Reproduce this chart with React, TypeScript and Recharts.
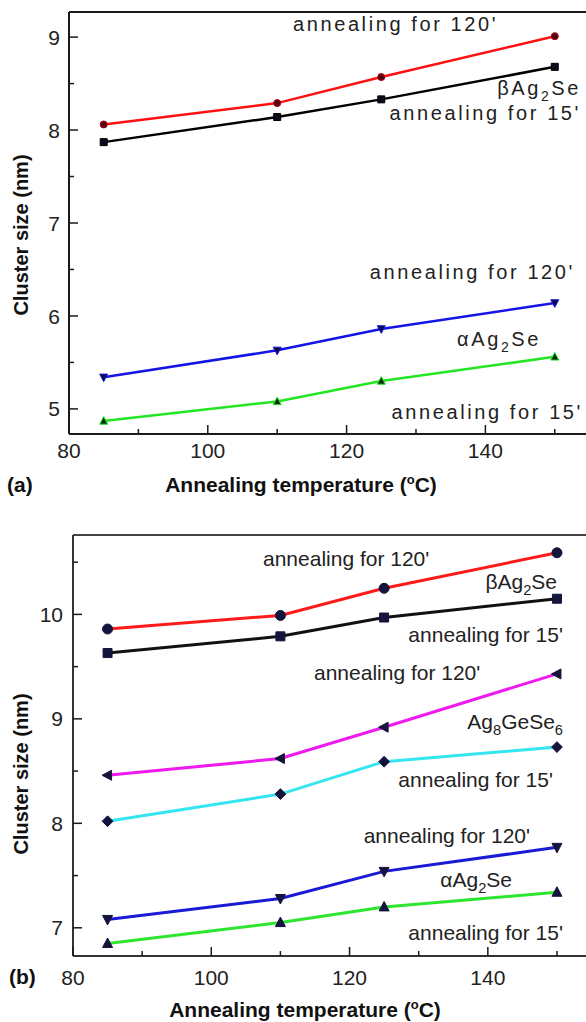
import { LineChart, Line, XAxis, YAxis } from 'recharts'

// ─── Data ─────────────────────────────────────────────────────────────────────

const temps = [85, 110, 125, 150]

// panel (a)
const aBeta120 = [8.06, 8.29, 8.57, 9.01]
const aBeta15 = [7.87, 8.14, 8.33, 8.68]
const aAlpha120 = [5.34, 5.63, 5.86, 6.14]
const aAlpha15 = [4.87, 5.08, 5.3, 5.56]

// panel (b)
const bBeta120 = [9.86, 9.99, 10.25, 10.59]
const bBeta15 = [9.63, 9.79, 9.97, 10.15]
const bGe120 = [8.46, 8.62, 8.92, 9.43]
const bGe15 = [8.02, 8.28, 8.59, 8.73]
const bAlpha120 = [7.08, 7.28, 7.54, 7.77]
const bAlpha15 = [6.85, 7.05, 7.2, 7.34]

const xTicks = [80, 90, 100, 110, 120, 130, 140, 150]
const xLabels = [80, 100, 120, 140]
const aYTicks = [5, 5.5, 6, 6.5, 7, 7.5, 8, 8.5, 9]
const bYTicks = [7, 7.5, 8, 8.5, 9, 9.5, 10, 10.5]

const rowsA = temps.map((t, i) => ({
  t, beta120: aBeta120[i], beta15: aBeta15[i], alpha120: aAlpha120[i], alpha15: aAlpha15[i],
}))
const rowsB = temps.map((t, i) => ({
  t, beta120: bBeta120[i], beta15: bBeta15[i], ge120: bGe120[i], ge15: bGe15[i],
  alpha120: bAlpha120[i], alpha15: bAlpha15[i],
}))

// ─── Styling ──────────────────────────────────────────────────────────────────

const SANS = "'Liberation Sans', Arial, Helvetica, sans-serif"
const AXIS = '#1a1a1a'

// ─── Markers ──────────────────────────────────────────────────────────────────

type Shape = 'circle' | 'square' | 'up' | 'down' | 'left' | 'diamond'

function markerPath(shape: Shape, cx: number, cy: number, r: number): string {
  switch (shape) {
    case 'square':
      return `M${cx - r},${cy - r}h${2 * r}v${2 * r}h${-2 * r}Z`
    case 'up':
      return `M${cx},${cy - r * 1.1}L${cx + r},${cy + r * 0.8}L${cx - r},${cy + r * 0.8}Z`
    case 'down':
      return `M${cx},${cy + r * 1.1}L${cx + r},${cy - r * 0.8}L${cx - r},${cy - r * 0.8}Z`
    case 'left':
      return `M${cx - r * 1.1},${cy}L${cx + r * 0.8},${cy - r}L${cx + r * 0.8},${cy + r}Z`
    case 'diamond':
      return `M${cx},${cy - r * 1.2}L${cx + r * 1.2},${cy}L${cx},${cy + r * 1.2}L${cx - r * 1.2},${cy}Z`
    default:
      return ''
  }
}

function dot(shape: Shape, r: number, fill: string, stroke: string) {
  return (p: any) => {
    if (p.cx == null || p.cy == null) return <g key={p.index} />
    if (shape === 'circle') {
      return <circle key={p.index} cx={p.cx} cy={p.cy} r={r} fill={fill} stroke={stroke} strokeWidth={1} />
    }
    return <path key={p.index} d={markerPath(shape, p.cx, p.cy, r)} fill={fill} stroke={stroke} strokeWidth={1} />
  }
}

// ─── Ticks (inward, with minor ticks) ─────────────────────────────────────────

function yTick(gap: number) {
  return (p: any) => {
    const v = p.payload.value
    const ax = p.x + gap
    const major = Number.isInteger(v)
    return (
      <g>
        <line x1={ax} x2={ax + (major ? 9 : 5)} y1={p.y} y2={p.y} stroke={AXIS} strokeWidth={1.5} />
        {major && (
          <text x={p.x} y={p.y} dy="0.36em" textAnchor="end" fontSize={21} fontFamily={SANS} fill="#222">
            {v}
          </text>
        )}
      </g>
    )
  }
}

function xTick(gap: number) {
  return (p: any) => {
    const v = p.payload.value
    const ay = p.y - gap
    const major = xLabels.includes(v)
    return (
      <g>
        <line x1={p.x} x2={p.x} y1={ay} y2={ay - (major ? 9 : 5)} stroke={AXIS} strokeWidth={1.5} />
        {major && (
          <text x={p.x} y={p.y} dy="0.71em" textAnchor="middle" fontSize={21} fontFamily={SANS} fill="#222">
            {v}
          </text>
        )}
      </g>
    )
  }
}

// ─── Labels ───────────────────────────────────────────────────────────────────

function Chem({ pre, sub, post }: { pre: string; sub: string; post: string }) {
  return (
    <>
      {pre}
      <tspan dy={6} fontSize="70%">{sub}</tspan>
      <tspan dy={-6}>{post}</tspan>
    </>
  )
}

function AxisTitle({ x, y }: { x: number; y: number }) {
  return (
    <text x={x} y={y} textAnchor="middle" fontSize={21} fontWeight="bold" fontFamily={SANS} fill="#111">
      Annealing temperature (<tspan dy={-8} fontSize={13}>o</tspan><tspan dy={8}>C)</tspan>
    </text>
  )
}

function YTitle({ cx, cy }: { cx: number; cy: number }) {
  return (
    <text
      x={0} y={0} transform={`translate(${cx},${cy}) rotate(-90)`}
      textAnchor="middle" fontSize={20} fontWeight="bold" fontFamily={SANS} fill="#111"
    >
      Cluster size (nm)
    </text>
  )
}

// ─── Component ────────────────────────────────────────────────────────────────

export default function App() {
  const aText = { fontSize: 20, fontFamily: SANS, letterSpacing: 2.6, fill: '#222' }
  const bText = { fontSize: 21, fontFamily: SANS, fill: '#222' }

  return (
    <div style={{ position: 'absolute', left: 0, top: 0, width: 586, height: 1022, background: '#fff' }}>
      {/* panel (a) */}
      <div style={{ position: 'absolute', left: 0, top: 0 }}>
        <LineChart width={586} height={500} data={rowsA} margin={{ top: 11, right: 0, left: 0, bottom: 0 }}>
          <XAxis
            dataKey="t" type="number" domain={[80, 154.5]} ticks={xTicks} interval={0}
            height={66} tickSize={0} tickMargin={9} tickLine={false}
            axisLine={{ stroke: AXIS, strokeWidth: 2 }} tick={xTick(9)}
          />
          <XAxis
            xAxisId="top" orientation="top" dataKey="t" type="number" domain={[80, 154.5]}
            height={1} tick={false} tickLine={false} axisLine={{ stroke: AXIS, strokeWidth: 2 }}
          />
          <YAxis
            type="number" domain={[4.73, 9.27]} ticks={aYTicks} interval={0}
            width={69} tickSize={0} tickMargin={9} tickLine={false}
            axisLine={{ stroke: AXIS, strokeWidth: 2 }} tick={yTick(9)}
          />
          <Line dataKey="beta120" stroke="#ff1010" strokeWidth={2.5} dot={dot('circle', 3.5, '#5a0012', '#a00010')} isAnimationActive={false} />
          <Line dataKey="beta15" stroke="#000" strokeWidth={2.5} dot={dot('square', 3.5, '#0a0a1e', '#000')} isAnimationActive={false} />
          <Line dataKey="alpha120" stroke="#1414e6" strokeWidth={2.5} dot={dot('down', 4, '#0c0c40', '#1414e6')} isAnimationActive={false} />
          <Line dataKey="alpha15" stroke="#22e622" strokeWidth={2.5} dot={dot('up', 4, '#0a2a0a', '#22e622')} isAnimationActive={false} />
        </LineChart>
      </div>

      {/* panel (b) */}
      <div style={{ position: 'absolute', left: 0, top: 500 }}>
        <LineChart width={586} height={522} data={rowsB} margin={{ top: 34, right: 0, left: 0, bottom: 0 }}>
          <XAxis
            dataKey="t" type="number" domain={[80, 154.2]} ticks={xTicks} interval={0}
            height={66} tickSize={0} tickMargin={14} tickLine={false}
            axisLine={{ stroke: '#333', strokeWidth: 2 }} tick={xTick(14)}
          />
          <XAxis
            xAxisId="top" orientation="top" dataKey="t" type="number" domain={[80, 154.2]}
            height={1} tick={false} tickLine={false} axisLine={{ stroke: '#444', strokeWidth: 2 }}
          />
          <YAxis
            type="number" domain={[6.73, 10.76]} ticks={bYTicks} interval={0}
            width={73} tickSize={0} tickMargin={10} tickLine={false}
            axisLine={{ stroke: '#333', strokeWidth: 2 }} tick={yTick(10)}
          />
          <Line dataKey="beta120" stroke="#ff1a1a" strokeWidth={3} dot={dot('circle', 5, '#14143c', '#14143c')} isAnimationActive={false} />
          <Line dataKey="beta15" stroke="#111" strokeWidth={3} dot={dot('square', 4.5, '#14143c', '#14143c')} isAnimationActive={false} />
          <Line dataKey="ge120" stroke="#ee1aee" strokeWidth={3} dot={dot('left', 5, '#14143c', '#14143c')} isAnimationActive={false} />
          <Line dataKey="ge15" stroke="#33e6f0" strokeWidth={3} dot={dot('diamond', 4.5, '#14143c', '#14143c')} isAnimationActive={false} />
          <Line dataKey="alpha120" stroke="#1a1ad6" strokeWidth={3} dot={dot('down', 5, '#14143c', '#14143c')} isAnimationActive={false} />
          <Line dataKey="alpha15" stroke="#2ee62e" strokeWidth={3} dot={dot('up', 5, '#14143c', '#14143c')} isAnimationActive={false} />
        </LineChart>
      </div>

      {/* annotations and titles */}
      <svg width={586} height={1022} style={{ position: 'absolute', left: 0, top: 0, pointerEvents: 'none' }}>
        <text x={293} y={31} {...aText}>annealing for 120'</text>
        <text x={581} y={95} textAnchor="end" {...aText}><Chem pre="βAg" sub="2" post="Se" /></text>
        <text x={581} y={120} textAnchor="end" {...aText}>annealing for 15'</text>
        <text x={575} y={279} textAnchor="end" {...aText}>annealing for 120'</text>
        <text x={541} y={346} textAnchor="end" {...aText}><Chem pre="αAg" sub="2" post="Se" /></text>
        <text x={583} y={419} textAnchor="end" {...aText}>annealing for 15'</text>
        <AxisTitle x={301} y={492} />
        <text x={7} y={492} fontSize={21} fontWeight="bold" fontFamily={SANS} fill="#111">(a)</text>
        <YTitle cx={28} cy={235} />

        <text x={263} y={566} {...bText}>annealing for 120'</text>
        <text x={557} y={589} textAnchor="end" {...bText}><Chem pre="βAg" sub="2" post="Se" /></text>
        <text x={563} y={642} textAnchor="end" {...bText}>annealing for 15'</text>
        <text x={314} y={680} {...bText}>annealing for 120'</text>
        <text x={563} y={729} textAnchor="end" {...bText}>
          Ag<tspan dy={6} fontSize="70%">8</tspan><tspan dy={-6}>GeSe</tspan><tspan dy={6} fontSize="70%">6</tspan>
        </text>
        <text x={553} y={787} textAnchor="end" {...bText}>annealing for 15'</text>
        <text x={530} y={843} textAnchor="end" {...bText}>annealing for 120'</text>
        <text x={512} y={887} textAnchor="end" {...bText}><Chem pre="αAg" sub="2" post="Se" /></text>
        <text x={563} y={940} textAnchor="end" {...bText}>annealing for 15'</text>
        <AxisTitle x={305} y={1017} />
        <text x={9} y={984} fontSize={21} fontWeight="bold" fontFamily={SANS} fill="#111">(b)</text>
        <YTitle cx={28} cy={774} />
      </svg>
    </div>
  )
}
